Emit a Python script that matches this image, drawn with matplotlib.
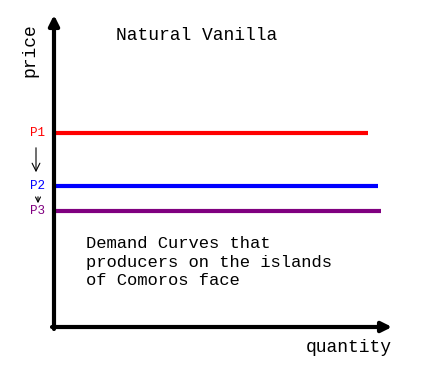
import matplotlib
matplotlib.use("Agg")
import matplotlib.pyplot as plt

# price levels (in drawing units above the origin) and where each demand line stops
labels = ["P1", "P2", "P3"]
prices = [194, 141, 116]
q_end = [314, 324, 327]
colors = ["#ff0000", "#0000ff", "#800080"]

title = "Natural Vanilla"
note = "Demand Curves that\nproducers on the islands\nof Comoros face"

W, H = 425, 384
fig = plt.figure(figsize=(W / 100, H / 100), dpi=100)
# axes placed so that 1 data unit = 1 pixel, origin at the corner of the axes
x0, y0 = 54, 327
ax = fig.add_axes([x0 / W, (H - y0) / H, 338 / W, 312 / H])
ax.set_xlim(0, 338)
ax.set_ylim(0, 312)
ax.axis("off")

font = "Liberation Mono"

# axes drawn as arrows
ax.annotate("", xy=(0, 312), xytext=(0, -2),
            arrowprops=dict(arrowstyle="-|>,head_length=0.6,head_width=0.3",
                            lw=3, color="black", shrinkA=0, shrinkB=0),
            annotation_clip=False)
ax.annotate("", xy=(338, 0), xytext=(-2, 0),
            arrowprops=dict(arrowstyle="-|>,head_length=0.6,head_width=0.3",
                            lw=3, color="black", shrinkA=0, shrinkB=0),
            annotation_clip=False)

# horizontal demand curves
for lab, p, q, c in zip(labels, prices, q_end, colors):
    ax.plot([0, q], [p, p], color=c, lw=3, solid_capstyle="butt", clip_on=False)
    ax.text(-16, p, lab, color=c, fontsize=9, family=font,
            ha="center", va="center", clip_on=False)

# arrows showing the fall in price
ax.annotate("", xy=(-18, prices[0] - 42), xytext=(-18, prices[0] - 12),
            arrowprops=dict(arrowstyle="->", lw=0.8, color="black",
                            mutation_scale=14),
            annotation_clip=False)
ax.annotate("", xy=(-16, prices[2] + 5), xytext=(-16, prices[1] - 8),
            arrowprops=dict(arrowstyle="->", lw=0.8, color="black",
                            mutation_scale=9),
            annotation_clip=False)

ax.text(143, 292, title, fontsize=13, family=font, ha="center", va="center")
ax.text(-24, 277, "price", fontsize=13, family=font, rotation=90,
        ha="center", va="center", clip_on=False)
ax.text(295, -21, "quantity", fontsize=13, family=font,
        ha="center", va="center", clip_on=False)
ax.text(32, 91, note, fontsize=12.3, family=font, ha="left", va="top",
        linespacing=1.3)

fig.savefig("out.png", dpi=100)
